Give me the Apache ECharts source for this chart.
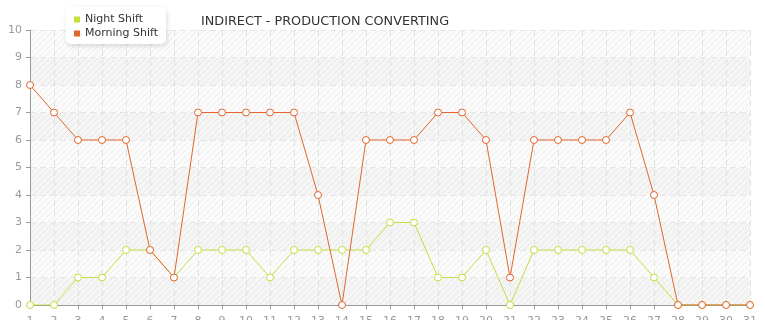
<!DOCTYPE html>
<html><head><meta charset="utf-8">
<script src="https://cdn.jsdelivr.net/npm/echarts@6/dist/echarts.min.js"></script>
<style>html,body{margin:0;padding:0;background:#fff}#c{width:765px;height:320px}</style>
</head><body><div id="c"></div>
<script>
var days = ['1','2','3','4','5','6','7','8','9','10','11','12','13','14','15','16','17','18','19','20','21','22','23','24','25','26','27','28','29','30','31'];
var nightShift = [0,0,1,1,2,2,1,2,2,2,1,2,2,2,2,3,3,1,1,2,0,2,2,2,2,2,1,0,0,0,0];
var morningShift = [8,7,6,6,6,2,1,7,7,7,7,7,4,0,6,6,6,7,7,6,1,6,6,6,6,7,4,0,0,0,0];
var titleText = 'INDIRECT - PRODUCTION CONVERTING';

function stripe(bg){
  var cv = document.createElement('canvas'); cv.width = 6; cv.height = 6;
  var g = cv.getContext('2d');
  g.fillStyle = bg; g.fillRect(0,0,6,6);
  g.strokeStyle = 'rgba(0,0,0,0.05)'; g.lineWidth = 1;
  g.beginPath(); g.moveTo(0,6); g.lineTo(6,0); g.moveTo(-3,3); g.lineTo(3,-3); g.moveTo(3,9); g.lineTo(9,3); g.stroke();
  return {image: cv, repeat: 'repeat'};
}
var chart = echarts.init(document.getElementById('c'), null, {renderer:'canvas'});
var lbl = {color:'#999', fontSize:11, fontFamily:'DejaVu Sans'};
chart.setOption({
  animation:false,
  title:{text:titleText, left:196, top:10, textStyle:{fontSize:12.8, fontWeight:'normal', color:'#333', fontFamily:'DejaVu Sans'}},
  legend:{data:[{name:'Night Shift', itemStyle:{color:'#c3df3c', borderWidth:0}},{name:'Morning Shift', itemStyle:{color:'#e0662e', borderWidth:0}}],
    orient:'vertical', left:66, top:7, padding:[7,8,5,8],
    backgroundColor:'#fff', borderRadius:5, shadowBlur:5, shadowColor:'rgba(0,0,0,0.15)', shadowOffsetX:1, shadowOffsetY:2,
    icon:'rect', itemWidth:6, itemHeight:6, itemGap:3,
    textStyle:{fontSize:11, color:'#333', fontFamily:'DejaVu Sans'}},
  grid:{left:30, right:15, top:30, bottom:15, outerBoundsMode:'none', containLabel:false},
  xAxis:{type:'category', data:days, boundaryGap:false,
    axisLine:{lineStyle:{color:'#999'}}, axisTick:{show:true, length:4, lineStyle:{color:'#999'}},
    axisLabel:Object.assign({margin:11}, lbl),
    splitLine:{show:true, lineStyle:{color:'#e0e0e0', type:[6,4]}}},
  yAxis:{type:'value', min:0, max:10, interval:1,
    axisLine:{show:true, lineStyle:{color:'#999'}}, axisTick:{show:true, length:4, lineStyle:{color:'#999'}},
    axisLabel:Object.assign({margin:8}, lbl),
    splitLine:{show:true, lineStyle:{color:'#e6e6e6', type:[6,4]}},
    splitArea:{show:true, areaStyle:{color:[stripe('#f5f5f5'), stripe('#fbfbfb')]}}},
  series:[
    {name:'Night Shift', type:'line', data:nightShift, color:'#c3df3c', symbol:'circle', symbolSize:7,
      lineStyle:{width:1, color:'#c3df3c'}, itemStyle:{color:'#fff', borderColor:'#c3df3c', borderWidth:1}},
    {name:'Morning Shift', type:'line', data:morningShift, color:'#e0662e', symbol:'circle', symbolSize:7,
      lineStyle:{width:1, color:'#e0662e'}, itemStyle:{color:'#fff', borderColor:'#e0662e', borderWidth:1}}
  ]
});
</script></body></html>
